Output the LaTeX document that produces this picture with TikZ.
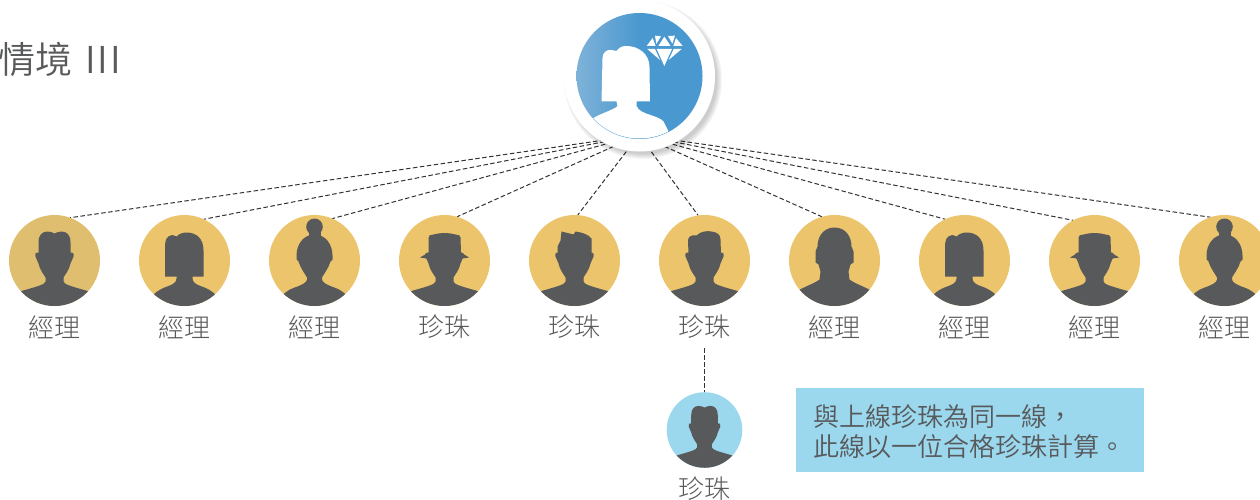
\documentclass[tikz,border=0pt]{standalone}
\usepackage{fontspec}
\newfontfamily\cjklight{Noto Sans CJK TC Light}
\newfontfamily\cjkdemi{Noto Sans CJK TC DemiLight}
\usetikzlibrary{positioning}
\pgfdeclarelayer{background}
\pgfsetlayers{background,main}
\definecolor{icongray}{HTML}{58595B}
\definecolor{gold}{HTML}{ECC46C}
\definecolor{dullgold}{HTML}{E0BE70}
\definecolor{skyblue}{HTML}{9BD8EE}
\definecolor{hubleft}{HTML}{7FB2D8}
\definecolor{hubright}{HTML}{4A98D0}
\newcommand\drawman{
    \begin{scope}
    \clip (0,0) circle (45.5);
    \fill[icon] (-16,-8) .. controls (-18,-9) and (-20,-7) .. (-19,-4) .. controls (-18,-1) and (-17,0) .. (-16,3)
        .. controls (-15,9) and (-10,15) .. (-9,17) -- (-9,21) .. controls (-10,24) and (-14,25) .. (-33,30.5)
        -- (-42,34) -- (-42,50) -- (42,50) -- (42,34) -- (33,30.5)
        .. controls (14,25) and (10,24) .. (9,21) -- (9,17) .. controls (10,15) and (15,9) .. (16,3)
        .. controls (17,0) and (18,-1) .. (19,-4) .. controls (20,-7) and (18,-9) .. (16,-8) -- cycle;
    \end{scope}
}
\tikzset{
    person/.style = {circle, inner sep=0pt, outer sep=0pt, fill=gold, minimum size=91pt},
    trainee/.style = {person, fill=skyblue, minimum size=75.6pt},
    caption/.style = {inner sep=0pt, outer sep=0pt, text=icongray, minimum height=42pt,
        font=\cjklight\fontsize{26}{30}\selectfont},
    link/.style = {draw=black!80, line width=1pt, dash pattern=on 4.5pt off 2.5pt},
    icon/.style = {fill=icongray},
    parted/.pic = {
        \drawman
        \fill[icon] (-16,-6) -- (-16,-18) .. controls (-16,-26) and (-12,-29) .. (-7,-29) .. controls (-4,-29) and (-2,-28) .. (0,-27)
            .. controls (2,-28) and (4,-29) .. (7,-29) .. controls (12,-29) and (16,-26) .. (16,-18) -- (16,-6) -- cycle;
    },
    hat/.pic = {
        \drawman
        \fill[icon] (-24.5,-3) -- (-16,-8) -- (-16,-23) .. controls (-16,-25) and (-14,-26) .. (-11,-26)
            .. controls (-4,-28) and (4,-28) .. (11,-26) .. controls (14,-26) and (16,-25) .. (16,-23)
            -- (16.5,-8) -- (24.5,-3) -- (18,-2) -- (-18,-2) -- cycle;
    },
    spiky/.pic = {
        \drawman
        \fill[icon] (-17,-6) -- (-17,-14) -- (-14,-20) -- (-13,-29) -- (-1,-26) -- (1,-29)
            .. controls (8,-28) and (14,-26) .. (17,-22) -- (17,-6) -- cycle;
    },
    swoop/.pic = {
        \drawman
        \fill[icon] (-16,-6) -- (-16.5,-20) .. controls (-16.5,-24) and (-13,-26) .. (-8,-25) .. controls (-4,-29) and (2,-30) .. (7,-29)
            .. controls (13,-28) and (16,-26) .. (16,-21) -- (16.5,-6) -- cycle;
    },
    bald/.pic = {
        \begin{scope}
        \clip (0,0) circle (45.5);
        \fill[icon] (0,-33) .. controls (-11,-33) and (-17,-24) .. (-17,-14) -- (-19,-9) -- (-19,2) -- (-16,4) -- (-14,11) -- (-15,19)
            .. controls (-20,23) and (-30,26) .. (-38,31) -- (-38,50) -- (38,50) -- (38,31)
            .. controls (30,26) and (20,23) .. (15,19) -- (14,11) -- (16,4) -- (19,2) -- (19,-9) -- (17,-14)
            .. controls (17,-24) and (11,-33) .. (0,-33) -- cycle;
        \end{scope}
    },
    bob/.pic = {
        \begin{scope}
        \clip (0,0) circle (45.5);
        \fill[icon] (-19.5,16) -- (-19.5,-14) .. controls (-19.5,-20) and (-18,-25) .. (-12,-25.5) -- (-8,-24)
            .. controls (-5,-27) and (-1,-28) .. (2,-28) .. controls (12,-28) and (19,-22) .. (19,-10) -- (19,16) -- cycle;
        \fill[icon] (-8,15) -- (-8,18) .. controls (-8,22) and (-12,24) .. (-16,25.5) .. controls (-22,27.5) and (-27,30) .. (-32,35)
            -- (-32,50) -- (32,50) -- (32,35) .. controls (27,30) and (22,27.5) .. (16,25.5)
            .. controls (12,24) and (8,22) .. (8,18) -- (8,15) -- cycle;
        \end{scope}
    },
    bun/.pic = {
        \begin{scope}
        \clip (0,0) circle (45.5);
        \fill[icon] (0,-33.7) circle (8.3);
        \fill[icon] (-6,-29) rectangle (6,-21);
        \fill[icon] (0,-26) .. controls (-11,-26) and (-18,-16) .. (-18,-5) -- (-18,-1) -- (-16,1)
            .. controls (-14,8) and (-9,14) .. (-7.5,17) -- (-7.5,19) .. controls (-8,22) and (-12,24) .. (-17,26)
            .. controls (-23,28) and (-28,30) .. (-33,36) -- (-33,50) -- (33,50) -- (33,36)
            .. controls (28,30) and (23,28) .. (17,26) .. controls (12,24) and (8,22) .. (7.5,19) -- (7.5,17)
            .. controls (9,14) and (14,8) .. (16,1) -- (18,-1) -- (18,-5) .. controls (18,-16) and (11,-26) .. (0,-26) -- cycle;
        \end{scope}
    },
}

\begin{document}
\begin{tikzpicture}[x=1pt,y=-1pt]
\useasboundingbox (0,0) rectangle (1260,500);

% title
\node[anchor=west, inner sep=0pt, text=icongray, font=\cjkdemi\fontsize{37}{40}\selectfont] (title) at (-2,60) {情境\kern13pt I\kern2pt I\kern2pt I};

% top of the line
\foreach \r in {79,78,77,76,75,74}
    \fill[black, opacity=.035] (643,80) circle (\r);
\node[circle, fill=white, inner sep=0pt, minimum size=151pt] (hub) at (639.5,76) {};
\node[circle, inner sep=0pt, minimum size=126pt, left color=hubleft, right color=hubright, middle color=hubright] (hubdisc) at (639.5,76) {};
\coordinate (hubfoot) at (639,135);
\begin{scope}[shift={(639.5,76)}]
\clip (0,0) circle (62.5);
\fill[white] (-38,25.5) -- (-37,-18) .. controls (-37,-23) and (-33,-27) .. (-28,-26) -- (-23,-25)
    .. controls (-20,-29) and (-17,-30) .. (-13,-30) .. controls (-1,-30) and (10,-22) .. (10,-9) -- (10.5,25.5) -- (-3,25.5) -- (-3,30)
    .. controls (-1,35) and (5,37) .. (11,39) .. controls (17,41) and (22,43) .. (24,45.5) -- (29,55.5) -- (35,70) -- (-60,70) -- (-60,50) -- (-46,42)
    .. controls (-40,38) and (-24,33) .. (-22,30) -- (-23,25.5) -- cycle;
\end{scope}
% the diamond
\begin{scope}[shift={(540,0)},x=.3333pt,y=-.3333pt]
\fill[white] (345,107) -- (363,109) -- (349,132) -- cycle;
\fill[white] (320,138) -- (338,114) -- (347,138) -- cycle;
\fill[white] (373,110) -- (392,138) -- (355,138) -- cycle;
\fill[white] (384,108) -- (405,107) -- (397,131) -- cycle;
\fill[white] (400,138) -- (408,114) -- (428,138) -- cycle;
\fill[white] (322,147) -- (345,147) -- (360,180) -- cycle;
\fill[white] (350,147) -- (396,147) -- (373,198) -- cycle;
\fill[white] (401,147) -- (425,147) -- (386,180) -- cycle;
\end{scope}

% managers and pearls
\node[person, fill=dullgold] (m1) at (54.5,260.5) {};
\node[person] (m2) at (184.5,260.5) {};
\node[person] (m3) at (314.5,260.5) {};
\node[person] (m4) at (444.5,260.5) {};
\node[person] (m5) at (574.5,260.5) {};
\node[person] (m6) at (704.5,260.5) {};
\node[person] (m7) at (834.5,260.5) {};
\node[person] (m8) at (964.5,260.5) {};
\node[person] (m9) at (1094.5,260.5) {};
\node[person] (m10) at (1224.5,260.5) {};
\pic at (m1) {parted};
\pic at (m2) {bob};
\pic at (m3) {bun};
\pic at (m4) {hat};
\pic at (m5) {spiky};
\pic at (m6) {swoop};
\pic at (m7) {bald};
\pic at (m8) {bob};
\pic at (m9) {hat};
\pic at (m10) {bun};
\node[caption, below=0pt of m1] (t1) {經理};
\node[caption, below=0pt of m2] (t2) {經理};
\node[caption, below=0pt of m3] (t3) {經理};
\node[caption, below=0pt of m4] (t4) {珍珠};
\node[caption, below=0pt of m5] (t5) {珍珠};
\node[caption, below=0pt of m6] (t6) {珍珠};
\node[caption, below=0pt of m7] (t7) {經理};
\node[caption, below=0pt of m8] (t8) {經理};
\node[caption, below=0pt of m9] (t9) {經理};
\node[caption, below=0pt of m10] (t10) {經理};

% the one below
\node[trainee] (low) at (704.5,430) {};
\pic[scale=.83] at (low) {parted};
\node[caption, below=0pt of low] (lowt) {珍珠};

% note
\node[anchor=north west, fill=skyblue, inner sep=0pt, minimum width=348pt, minimum height=84pt] (note) at (796,388) {};
\node[anchor=west, inner sep=0pt, align=left, text=icongray, font=\cjkdemi\fontsize{26}{30}\selectfont] (notetext) at (813,432) {與上線珍珠為同一線，\\此線以一位合格珍珠計算。};

\begin{pgfonlayer}{background}
\draw[link] (hubfoot) -- (m1.70);
\draw[link] (hubfoot) -- (m2.65);
\draw[link] (hubfoot) -- (m3.67);
\draw[link] (hubfoot) -- (m4.74);
\draw[link] (hubfoot) -- (m5.86);
\draw[link] (hubfoot) -- (m6.98);
\draw[link] (hubfoot) -- (m7.106);
\draw[link] (hubfoot) -- (m8.115);
\draw[link] (hubfoot) -- (m9.118);
\draw[link] (hubfoot) -- (m10.108);
\draw[link] (t6) -- (low);
\end{pgfonlayer}
\end{tikzpicture}
\end{document}
